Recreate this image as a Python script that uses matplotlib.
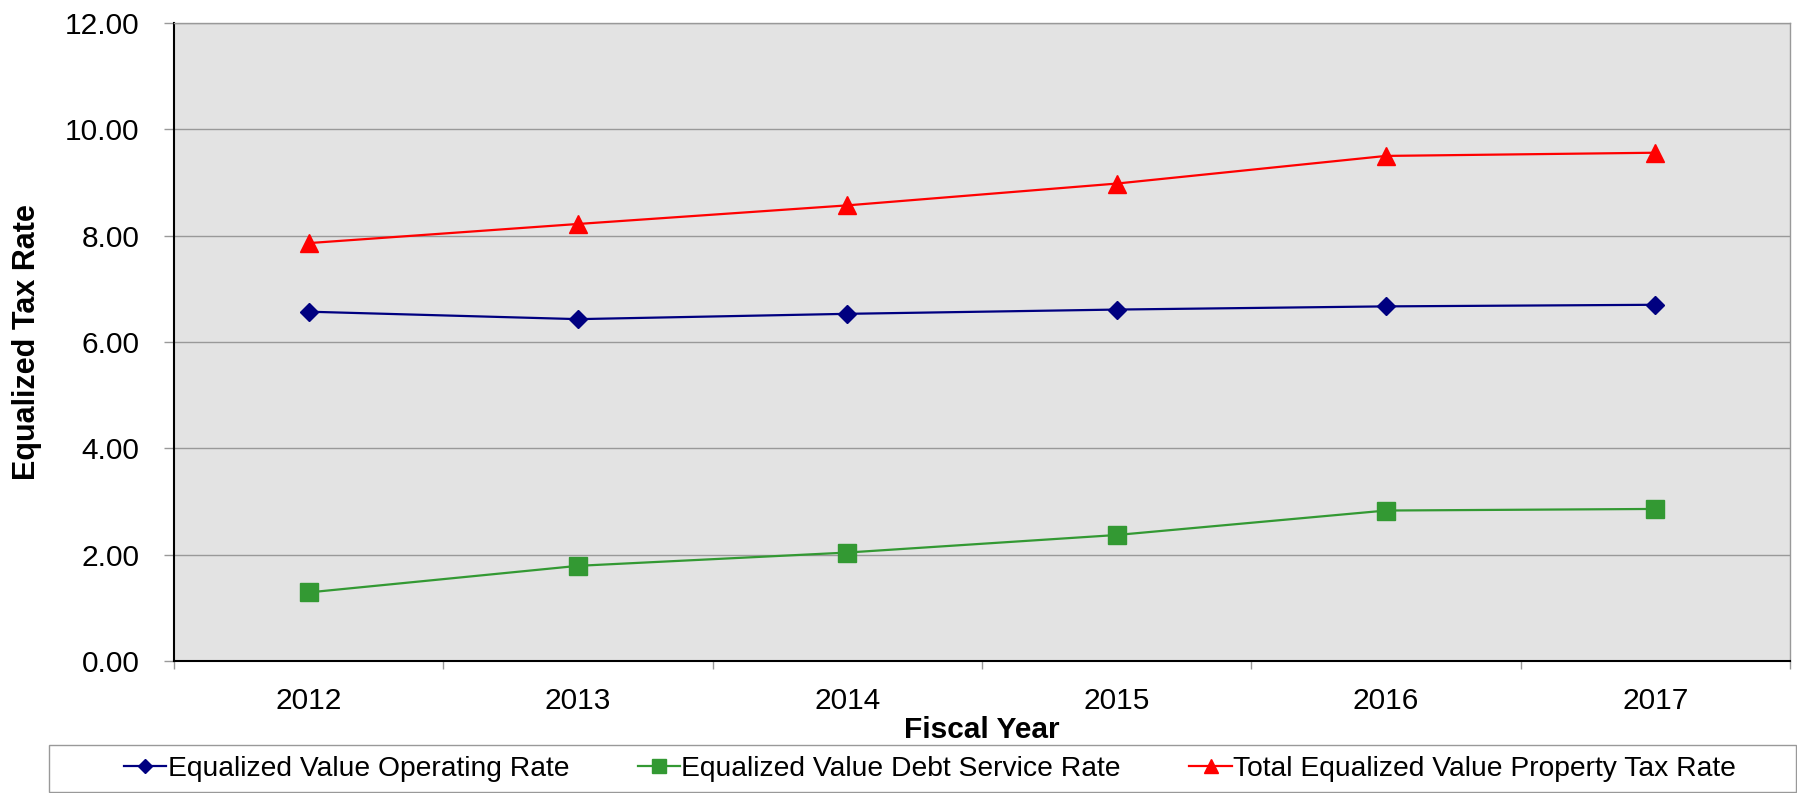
import matplotlib
matplotlib.use("Agg")
import matplotlib.pyplot as plt
from matplotlib.patches import Rectangle

years = ["2012", "2013", "2014", "2015", "2016", "2017"]
operating = [6.57, 6.43, 6.53, 6.61, 6.67, 6.70]
debt_service = [1.29, 1.79, 2.04, 2.37, 2.83, 2.86]
total = [7.86, 8.22, 8.57, 8.98, 9.50, 9.56]
y_ticks = [0, 2, 4, 6, 8, 10, 12]

plt.rcParams['font.family'] = ['Liberation Sans', 'DejaVu Sans']
FS = 21.5
LFS = 20.3

W, H = 1797, 793
fig = plt.figure(figsize=(W / 100, H / 100), dpi=100)
fig.patch.set_facecolor('white')

L, R, T, B = 174, 1790, 23, 661
ax = fig.add_axes([L / W, (H - B) / H, (R - L) / W, (B - T) / H])
ax.set_facecolor('#E3E3E3')

x = list(range(len(years)))
ax.plot(x, operating, color='#000080', lw=1.6, marker='D', ms=9.5,
        label='Equalized Value Operating Rate', zorder=3)
ax.plot(x, debt_service, color='#339933', lw=1.6, marker='s', ms=13,
        label='Equalized Value Debt Service Rate', zorder=3)
ax.plot(x, total, color='#FF0000', lw=1.6, marker='^', ms=13.5,
        label='Total Equalized Value Property Tax Rate', zorder=3)

ax.set_xlim(-0.5, len(years) - 0.5)
ax.set_ylim(0, 12)
ax.set_yticks(y_ticks)
ax.set_yticklabels([f"{v:.2f}" for v in y_ticks], fontsize=FS)
ax.yaxis.grid(True, color='#999999', lw=1.0)
ax.set_axisbelow(True)

ax.set_xticks(x)
ax.set_xticklabels(years, fontsize=FS)
ax.set_xticks([i - 0.5 for i in range(len(years) + 1)], minor=True)
ax.tick_params(axis='x', which='major', length=0, pad=18.5)
ax.tick_params(axis='x', which='minor', length=6, color='#999999', width=1)
ax.tick_params(axis='y', length=7, color='#999999', width=1, pad=18)

for s in ['left', 'bottom']:
    ax.spines[s].set_color('black')
    ax.spines[s].set_linewidth(1.5)
ax.spines['right'].set_color('#999999')
ax.spines['top'].set_color('#999999')
ax.spines['right'].set_linewidth(1.0)
ax.spines['top'].set_linewidth(1.0)

ax.set_ylabel('Equalized Tax Rate', fontsize=22, fontweight='bold')
ax.yaxis.set_label_coords((42 - L) / (R - L), 0.5)
ax.set_xlabel('Fiscal Year', fontsize=FS, fontweight='bold')
ax.xaxis.set_label_coords(0.5, (B - 716) / (B - T))

# legend frame
lx0, lx1, ly0, ly1 = 49, 1796, 745, 792
fig.patches.append(Rectangle((lx0 / W, (H - ly1) / H), (lx1 - lx0) / W, (ly1 - ly0) / H,
                             transform=fig.transFigure, facecolor='white',
                             edgecolor='#999999', lw=1.0))
handles, labels = ax.get_legend_handles_labels()
leg = fig.legend(handles, labels, loc='center', ncol=3,
                 bbox_to_anchor=(((lx0 + lx1) / 2 + 7.5) / W, (H - (ly0 + ly1) / 2) / H),
                 frameon=False, fontsize=LFS, handlelength=1.5, handletextpad=0.05,
                 columnspacing=2.43, markerscale=0.75)

fig.savefig('out.png', dpi=100)
